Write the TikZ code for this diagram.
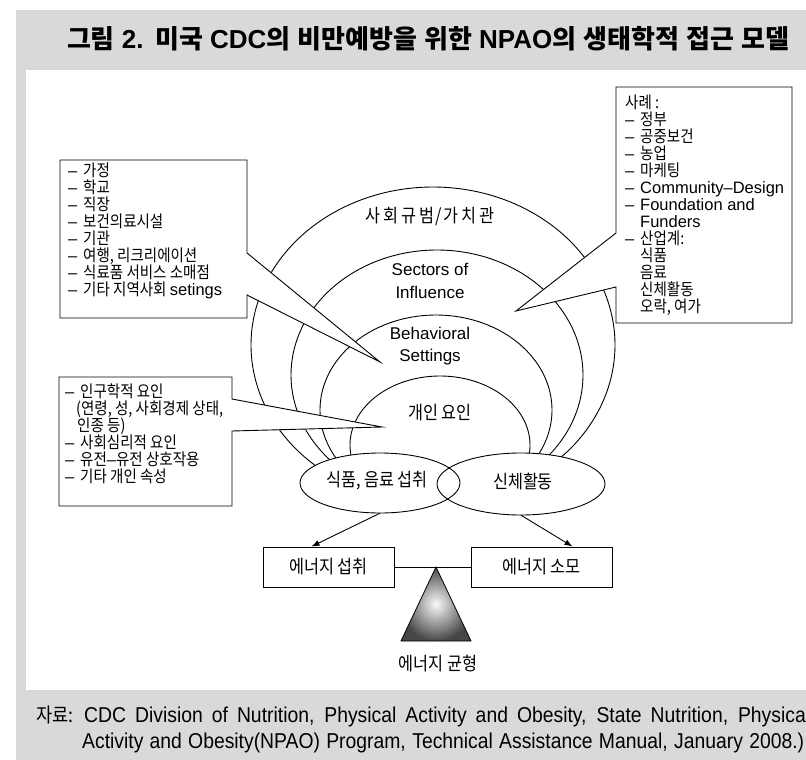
\documentclass[tikz,border=0pt]{standalone}
\usepackage{fontspec}
\setmainfont{Noto Sans CJK KR}[FakeStretch=0.88]
\newfontfamily\krt{Noto Sans CJK KR}
\newfontfamily\lat{Liberation Sans}
\newfontfamily\latc{Liberation Sans}[FakeStretch=0.9]
\usetikzlibrary{shapes.geometric,arrows.meta}
\definecolor{panel}{HTML}{D9D9D9}
\newcommand\lidash{\makebox[15pt][l]{\lat –}}
\tikzset{
  ln/.style={line width=0.9pt},
  callout/.style={draw, fill=white, line width=0.9pt},
  listtext/.style={anchor=north west, inner sep=0pt, align=left, font=\fontsize{16.5}{17}\selectfont},
  lbl/.style={inner sep=0pt, align=center, font=\fontsize{18.5}{22}\selectfont},
  latlbl/.style={inner sep=0pt, align=center, font=\lat\fontsize{17}{22.5}\selectfont},
  ebox/.style={draw, line width=1pt, minimum height=40pt, inner sep=0pt, font=\fontsize{18.5}{20}\selectfont},
  blob/.style={ellipse, fill=white, inner sep=0pt},
}
\begin{document}
\begin{tikzpicture}[x=1pt, y=-1pt]
\useasboundingbox (0,0) rectangle (806,760);
\fill[white] (0,0) rectangle (806,760);
\fill[panel] (16,10) rectangle (806,760);
\fill[white] (26,70) rectangle (806,690);

% title
\node[inner sep=0pt, font=\krt\fontsize{26}{28}\selectfont\bfseries] (title) at (428,39)
  {\hbox to 722pt{그림 {\lat 2.} 미국 {\lat CDC}의 비만예방을 위한 {\lat NPAO}의 생태학적 접근 모델}};

% arches
\draw[ln] plot[domain=129:410, samples=140, smooth, variable=\t] ({433+182*cos(\t)},{345+158*sin(\t)});
\draw[ln] plot[domain=134:402, samples=140, smooth, variable=\t] ({437+146*cos(\t)},{375+125*sin(\t)});
\draw[ln] plot[domain=147:393, samples=120, smooth, variable=\t] ({436+116*cos(\t)},{410+95*sin(\t)});
\draw[ln] plot[domain=163:377, samples=100, smooth, variable=\t] ({440+90*cos(\t)},{445+69*sin(\t)});

\node[lbl] (norms) at (430,217) {사\kern3pt 회\kern3pt 규\kern3pt 범\kern1pt/\kern1pt 가\kern3pt 치\kern3pt 관};
\node[latlbl] (sectors) at (430,281) {Sectors of\\Influence};
\node[latlbl] (settings) at (430,346) {Behavioral\\Settings};
\node[lbl] (indiv) at (440,413) {개인 요인};

% callouts
\draw[callout] (60,160) -- (247,160) -- (247,253) -- (380,362) -- (247,295) -- (247,318) -- (60,318) -- cycle;
\draw[callout] (59,377) -- (232,377) -- (232,399) -- (382,427) -- (232,431) -- (232,506) -- (59,506) -- cycle;
\draw[callout] (616,87) -- (792,87) -- (792,323) -- (616,323) -- (616,287) -- (516,311) -- (616,233) -- cycle;

\node[listtext] (tltext) at (68,163) {\lidash 가정\\\lidash 학교\\\lidash 직장\\\lidash 보건의료시설\\\lidash 기관\\\lidash 여행, 리크리에이션\\\lidash 식료품 서비스 소매점\\\lidash 기타 지역사회 {\lat setings}};

\node[listtext] (bltext) at (65,383.5) {\lidash 인구학적 요인\\\hspace*{11pt}(연령, 성, 사회경제 상태,\\\hspace*{12pt}인종 등)\\\lidash 사회심리적 요인\\\lidash 유전{\lat –}유전 상호작용\\\lidash 기타 개인 속성};

\node[listtext] (rtext) at (625,94.5) {사례 :\\\lidash 정부\\\lidash 공중보건\\\lidash 농업\\\lidash 마케팅\\\lidash {\lat Community–Design}\\\lidash {\lat Foundation and}\\\hspace*{15pt}{\lat Funders}\\\lidash 산업계:\\\hspace*{15pt}식품\\\hspace*{15pt}음료\\\hspace*{15pt}신체활동\\\hspace*{15pt}오락, 여가};

% bottom ellipses
\node[blob, minimum width=160pt, minimum height=60pt] (food) at (380,483) {};
\node[blob, minimum width=168pt, minimum height=62pt] (act) at (521,484) {};
\draw[ln] (food.center) ellipse[x radius=80pt, y radius=30pt];
\draw[ln] (act.center) ellipse[x radius=84pt, y radius=31pt];
\node[lbl] (foodtxt) at (377,481) {식품, 음료 섭취};
\node[lbl] (acttxt) at (523,481) {신체활동};

% energy boxes
\node[ebox, minimum width=131pt] (intake) at (328.5,567) {에너지 섭취};
\node[ebox, minimum width=141pt] (spend) at (541.5,567) {에너지 소모};
\draw[ln, -{Latex[length=8pt,width=6pt]}] (food.south) -- ([xshift=49pt]intake.north west);
\draw[ln, -{Latex[length=8pt,width=6pt]}] (act.south) -- ([xshift=102pt]spend.north west);
\draw[ln] (intake.east) -- (spend.west);

% fulcrum
\shade[draw=black, line width=0.8pt, inner color=gray!5, outer color=black!72] (436,567) -- (471,641) -- (401,641) -- cycle;
\node[lbl] (balance) at (438,663) {에너지 균형};

% source
\node[anchor=base west, inner sep=0pt, font=\fontsize{20}{22}\selectfont] (src) at (36,722.5) {자료:};
\node[anchor=base west, inner sep=0pt, font=\latc\fontsize{21.5}{22}\selectfont] (ref1) at (84,722.5)
  {\hbox to 726pt{CDC Division of Nutrition, Physical Activity and Obesity, State Nutrition, Physical}};
\node[anchor=base west, inner sep=0pt, font=\latc\fontsize{21.5}{22}\selectfont] (ref2) at (82,748)
  {\hbox to 722pt{Activity and Obesity(NPAO) Program, Technical Assistance Manual, January 2008.)}};
\end{tikzpicture}
\end{document}
